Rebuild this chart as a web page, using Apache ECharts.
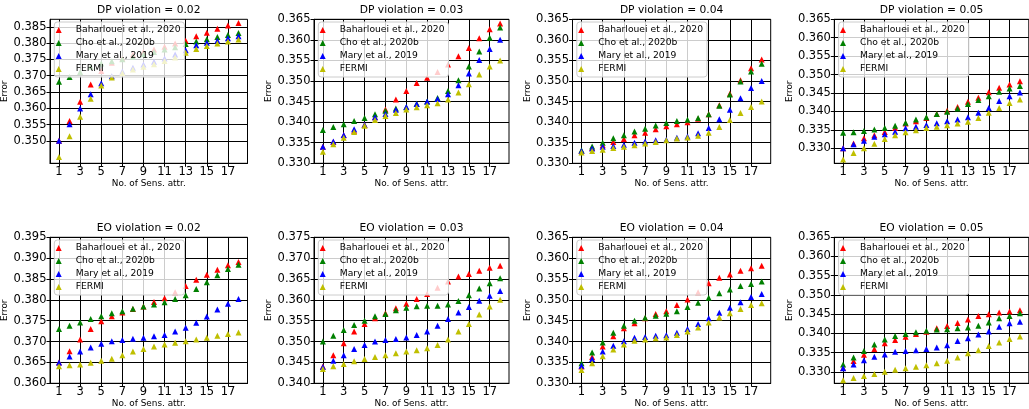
<!DOCTYPE html>
<html>
<head>
<meta charset="utf-8">
<script src="https://cdn.jsdelivr.net/npm/echarts@6/dist/echarts.min.js"></script>
<style>
html, body { margin: 0; padding: 0; background: #fff; }
#main { width: 1029px; height: 409px; }
</style>
</head>
<body>
<div id="main"></div>
<script>
// x: number of sensitive attributes
var nAttrs = [1, 2, 3, 4, 5, 6, 7, 8, 9, 10, 11, 12, 13, 14, 15, 16, 17, 18];
var xTicks = [1, 3, 5, 7, 9, 11, 13, 15, 17];
var methods = ['Baharlouei et al., 2020', 'Cho et al., 2020b', 'Mary et al., 2019', 'FERMI'];
var colors = ['#ff0000', '#008000', '#0000ff', '#bfbf00'];

// DP violation = 0.02
var dp02Baharlouei = [0.3500,0.3561,0.3620,0.3673,0.3714,0.3740,0.3753,0.3765,0.3773,0.3780,0.3789,0.3799,0.3807,0.3821,0.3832,0.3844,0.3854,0.3862];
var dp02Cho        = [0.3681,0.3696,0.3711,0.3727,0.3737,0.3744,0.3750,0.3758,0.3766,0.3773,0.3780,0.3787,0.3797,0.3805,0.3812,0.3819,0.3825,0.3831];
var dp02Mary       = [0.3500,0.3551,0.3599,0.3643,0.3677,0.3698,0.3713,0.3724,0.3734,0.3743,0.3753,0.3765,0.3778,0.3793,0.3801,0.3807,0.3815,0.3821];
var dp02Fermi      = [0.3450,0.3514,0.3574,0.3629,0.3670,0.3694,0.3708,0.3719,0.3727,0.3735,0.3745,0.3756,0.3770,0.3782,0.3791,0.3799,0.3805,0.3811];

// DP violation = 0.03
var dp03Baharlouei = [0.3340,0.3352,0.3368,0.3379,0.3393,0.3412,0.3431,0.3455,0.3476,0.3495,0.3508,0.3522,0.3540,0.3560,0.3580,0.3604,0.3626,0.3640];
var dp03Cho        = [0.3381,0.3388,0.3395,0.3403,0.3410,0.3419,0.3428,0.3433,0.3436,0.3445,0.3450,0.3459,0.3476,0.3502,0.3535,0.3572,0.3605,0.3630];
var dp03Mary       = [0.3340,0.3353,0.3369,0.3383,0.3394,0.3412,0.3420,0.3430,0.3437,0.3444,0.3450,0.3456,0.3468,0.3490,0.3518,0.3551,0.3578,0.3600];
var dp03Fermi      = [0.3328,0.3346,0.3362,0.3376,0.3391,0.3405,0.3415,0.3422,0.3431,0.3436,0.3441,0.3446,0.3455,0.3472,0.3492,0.3516,0.3535,0.3550];

// DP violation = 0.04
var dp04Baharlouei = [0.3330,0.3337,0.3344,0.3352,0.3359,0.3368,0.3374,0.3383,0.3390,0.3395,0.3400,0.3408,0.3419,0.3441,0.3469,0.3502,0.3531,0.3552];
var dp04Cho        = [0.3332,0.3341,0.3350,0.3361,0.3368,0.3377,0.3384,0.3392,0.3398,0.3403,0.3406,0.3410,0.3419,0.3440,0.3467,0.3499,0.3523,0.3542];
var dp04Mary       = [0.3330,0.3336,0.3340,0.3342,0.3345,0.3350,0.3353,0.3356,0.3357,0.3362,0.3365,0.3373,0.3386,0.3407,0.3430,0.3458,0.3483,0.3500];
var dp04Fermi      = [0.3326,0.3330,0.3333,0.3337,0.3340,0.3344,0.3348,0.3352,0.3356,0.3360,0.3363,0.3367,0.3374,0.3388,0.3405,0.3422,0.3437,0.3450];

// DP violation = 0.05
var dp05Baharlouei = [0.3300,0.3313,0.3327,0.3335,0.3344,0.3355,0.3367,0.3373,0.3382,0.3393,0.3402,0.3412,0.3426,0.3437,0.3452,0.3464,0.3473,0.3482];
var dp05Cho        = [0.3342,0.3343,0.3347,0.3351,0.3355,0.3361,0.3369,0.3378,0.3384,0.3393,0.3399,0.3408,0.3420,0.3431,0.3441,0.3453,0.3462,0.3469];
var dp05Mary       = [0.3300,0.3311,0.3320,0.3331,0.3338,0.3345,0.3354,0.3358,0.3363,0.3368,0.3373,0.3378,0.3384,0.3396,0.3409,0.3428,0.3441,0.3451];
var dp05Fermi      = [0.3269,0.3287,0.3300,0.3312,0.3325,0.3335,0.3343,0.3349,0.3355,0.3358,0.3362,0.3367,0.3372,0.3382,0.3396,0.3409,0.3423,0.3432];

// EO violation = 0.02
var eo02Baharlouei = [0.3650,0.3677,0.3705,0.3730,0.3749,0.3761,0.3770,0.3778,0.3784,0.3795,0.3804,0.3818,0.3833,0.3848,0.3860,0.3872,0.3883,0.3891];
var eo02Cho        = [0.3730,0.3738,0.3746,0.3754,0.3761,0.3768,0.3773,0.3779,0.3784,0.3789,0.3794,0.3802,0.3811,0.3826,0.3842,0.3859,0.3874,0.3884];
var eo02Mary       = [0.3650,0.3664,0.3676,0.3686,0.3695,0.3701,0.3704,0.3707,0.3709,0.3713,0.3716,0.3724,0.3733,0.3745,0.3760,0.3777,0.3791,0.3802];
var eo02Fermi      = [0.3641,0.3643,0.3645,0.3649,0.3654,0.3659,0.3667,0.3676,0.3682,0.3688,0.3693,0.3697,0.3701,0.3705,0.3709,0.3714,0.3718,0.3722];

// EO violation = 0.03
var eo03Baharlouei = [0.3440,0.3467,0.3496,0.3524,0.3542,0.3556,0.3568,0.3580,0.3591,0.3602,0.3614,0.3629,0.3644,0.3656,0.3662,0.3670,0.3677,0.3682];
var eo03Cho        = [0.3500,0.3514,0.3528,0.3540,0.3550,0.3561,0.3566,0.3575,0.3581,0.3585,0.3586,0.3586,0.3589,0.3597,0.3611,0.3627,0.3640,0.3652];
var eo03Mary       = [0.3439,0.3454,0.3467,0.3482,0.3492,0.3500,0.3504,0.3506,0.3510,0.3516,0.3524,0.3538,0.3554,0.3570,0.3583,0.3598,0.3610,0.3621];
var eo03Fermi      = [0.3434,0.3441,0.3446,0.3453,0.3458,0.3463,0.3467,0.3472,0.3476,0.3479,0.3484,0.3492,0.3505,0.3524,0.3542,0.3565,0.3584,0.3600];

// EO violation = 0.04
var eo04Baharlouei = [0.3340,0.3363,0.3388,0.3413,0.3432,0.3444,0.3456,0.3466,0.3473,0.3488,0.3501,0.3518,0.3540,0.3553,0.3561,0.3570,0.3576,0.3582];
var eo04Cho        = [0.3348,0.3374,0.3398,0.3421,0.3438,0.3450,0.3457,0.3462,0.3467,0.3473,0.3483,0.3493,0.3505,0.3516,0.3525,0.3533,0.3538,0.3544];
var eo04Mary       = [0.3342,0.3358,0.3376,0.3390,0.3401,0.3409,0.3411,0.3414,0.3415,0.3421,0.3430,0.3442,0.3456,0.3469,0.3481,0.3494,0.3507,0.3514];
var eo04Fermi      = [0.3332,0.3348,0.3365,0.3381,0.3393,0.3402,0.3405,0.3408,0.3410,0.3416,0.3424,0.3434,0.3446,0.3458,0.3468,0.3478,0.3488,0.3492];

// EO violation = 0.05
var eo05Baharlouei = [0.3310,0.3328,0.3344,0.3359,0.3374,0.3383,0.3391,0.3398,0.3404,0.3413,0.3419,0.3427,0.3436,0.3445,0.3450,0.3454,0.3457,0.3460];
var eo05Cho        = [0.3319,0.3337,0.3354,0.3371,0.3384,0.3393,0.3398,0.3403,0.3407,0.3410,0.3411,0.3413,0.3415,0.3420,0.3428,0.3439,0.3445,0.3452];
var eo05Mary       = [0.3309,0.3319,0.3330,0.3339,0.3345,0.3352,0.3354,0.3356,0.3359,0.3363,0.3369,0.3380,0.3387,0.3397,0.3405,0.3417,0.3426,0.3430];
var eo05Fermi      = [0.3278,0.3284,0.3289,0.3294,0.3300,0.3305,0.3309,0.3313,0.3317,0.3322,0.3329,0.3337,0.3348,0.3356,0.3367,0.3376,0.3385,0.3392];

// y tick labels
var ticks350 = [0.350, 0.355, 0.360, 0.365, 0.370, 0.375, 0.380, 0.385];
var ticks330 = [0.330, 0.335, 0.340, 0.345, 0.350, 0.355, 0.360, 0.365];
var ticks360 = [0.360, 0.365, 0.370, 0.375, 0.380, 0.385, 0.390, 0.395];
var ticks340 = [0.340, 0.345, 0.350, 0.355, 0.360, 0.365, 0.370, 0.375];

var panels = [
    {title: 'DP violation = 0.02', series: [dp02Baharlouei, dp02Cho, dp02Mary, dp02Fermi], yMin: 0.3431, yMax: 0.3873, ticks: ticks350},
    {title: 'DP violation = 0.03', series: [dp03Baharlouei, dp03Cho, dp03Mary, dp03Fermi], yMin: 0.330, yMax: 0.365, ticks: ticks330},
    {title: 'DP violation = 0.04', series: [dp04Baharlouei, dp04Cho, dp04Mary, dp04Fermi], yMin: 0.330, yMax: 0.365, ticks: ticks330},
    {title: 'DP violation = 0.05', series: [dp05Baharlouei, dp05Cho, dp05Mary, dp05Fermi], yMin: 0.3259, yMax: 0.365, ticks: ticks330},
    {title: 'EO violation = 0.02', series: [eo02Baharlouei, eo02Cho, eo02Mary, eo02Fermi], yMin: 0.360, yMax: 0.395, ticks: ticks360},
    {title: 'EO violation = 0.03', series: [eo03Baharlouei, eo03Cho, eo03Mary, eo03Fermi], yMin: 0.340, yMax: 0.375, ticks: ticks340},
    {title: 'EO violation = 0.04', series: [eo04Baharlouei, eo04Cho, eo04Mary, eo04Fermi], yMin: 0.330, yMax: 0.365, ticks: ticks330},
    {title: 'EO violation = 0.05', series: [eo05Baharlouei, eo05Cho, eo05Mary, eo05Fermi], yMin: 0.327, yMax: 0.365, ticks: ticks330}
];

// subplot placement (px)
var colLeft = [50, 314, 572.5, 834.3];
var colWidth = [197.5, 195, 198.2, 194.5];
var rowTop = [19.3, 237.3];
var rowHeight = [144, 146];

var FONT = 'DejaVu Sans';
var triangle = 'path://M1,0L2,2L0,2Z';

var chart = echarts.init(document.getElementById('main'), null, {renderer: 'canvas'});

var titles = [], grids = [], xAxes = [], yAxes = [], legends = [], series = [];

panels.forEach(function (p, i) {
    var col = i % 4, row = Math.floor(i / 4);
    var left = colLeft[col], top = rowTop[row];
    var w = colWidth[col], h = rowHeight[row];

    titles.push({
        text: p.title,
        left: left + w / 2,
        top: top - 14.5,
        textAlign: 'center',
        padding: 0,
        textStyle: {fontFamily: FONT, fontSize: 10.7, fontWeight: 'normal', color: '#000'}
    });

    grids.push({
        left: left, top: top, width: w, height: h,
        show: true, borderColor: '#000', borderWidth: 1,
        backgroundColor: 'transparent',
        outerBoundsMode: 'none'
    });

    xAxes.push({
        type: 'value', gridIndex: i,
        min: 0.15, max: 18.85,
        name: 'No. of Sens. attr.', nameLocation: 'middle', nameGap: 15,
        nameTextStyle: {fontFamily: FONT, fontSize: 8.9, color: '#000'},
        axisLine: {show: true, onZero: false, lineStyle: {color: '#000', width: 1}},
        axisTick: {show: true, length: 3.5, customValues: xTicks, lineStyle: {color: '#000'}},
        axisLabel: {show: true, customValues: xTicks, margin: 3, fontFamily: FONT, fontSize: 11.5, color: '#000'},
        splitLine: {show: true, lineStyle: {color: '#000', width: 1}}
    });

    yAxes.push({
        type: 'value', gridIndex: i,
        min: p.yMin, max: p.yMax,
        name: 'Error', nameLocation: 'middle', nameGap: 32.5,
        nameTextStyle: {fontFamily: FONT, fontSize: 8.9, color: '#000'},
        axisLine: {show: true, onZero: false, lineStyle: {color: '#000', width: 1}},
        axisTick: {show: true, length: 3.5, customValues: p.ticks, lineStyle: {color: '#000'}},
        axisLabel: {
            show: true, customValues: p.ticks, margin: 3.5,
            fontFamily: FONT, fontSize: 11.5, color: '#000',
            formatter: function (v) { return v.toFixed(3); }
        },
        splitLine: {show: true, lineStyle: {color: '#000', width: 1}}
    });

    legends.push({
        data: methods,
        orient: 'vertical',
        left: left + 4.3, top: top + 2.7,
        icon: triangle,
        itemWidth: 24, itemHeight: 6,
        itemGap: 2,
        padding: [2.5, 4, 2.5, 1.4],
        backgroundColor: 'rgba(255,255,255,0.8)',
        borderColor: '#cccccc', borderWidth: 1, borderRadius: 3,
        selectedMode: false,
        textStyle: {fontFamily: FONT, fontSize: 9.2, color: '#000', lineHeight: 11}
    });

    p.series.forEach(function (vals, k) {
        series.push({
            name: methods[k],
            type: 'scatter',
            xAxisIndex: i, yAxisIndex: i,
            symbol: 'triangle', symbolSize: [6, 6],
            itemStyle: {color: colors[k], opacity: 1},
            emphasis: {disabled: true},
            data: nAttrs.map(function (x, j) { return [x, vals[j]]; })
        });
    });
});

chart.setOption({
    animation: false,
    backgroundColor: '#fff',
    title: titles,
    grid: grids,
    xAxis: xAxes,
    yAxis: yAxes,
    legend: legends,
    series: series
});
</script>
</body>
</html>
